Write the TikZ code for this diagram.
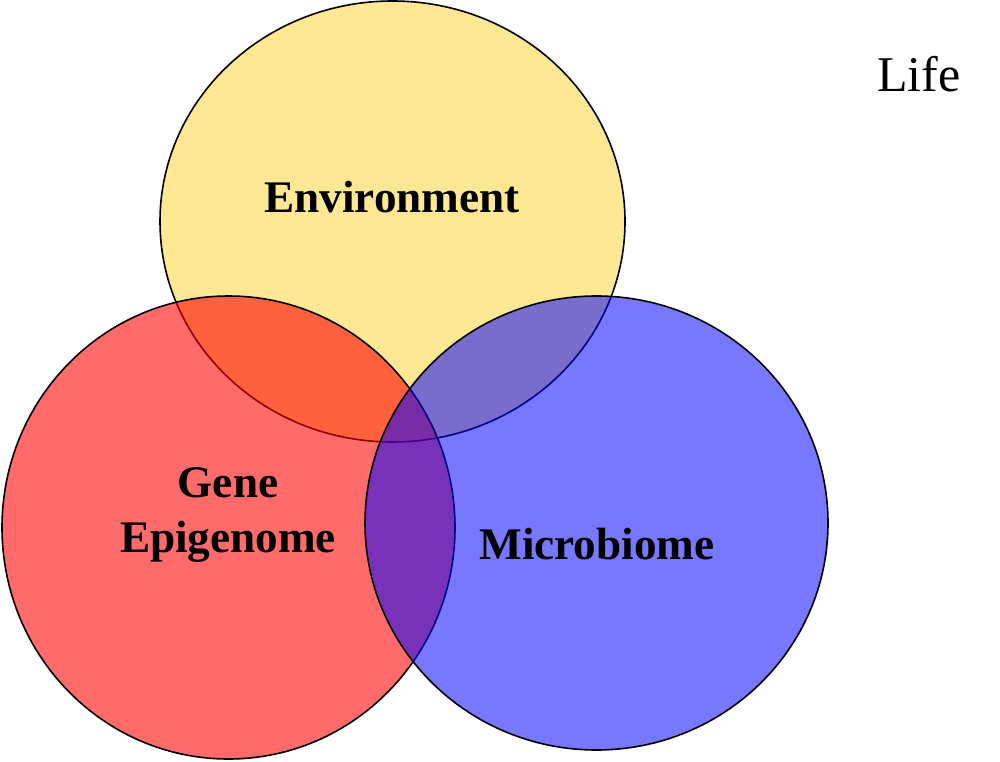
\documentclass[tikz,border=0pt]{standalone}
\usepackage{fontspec}
\setmainfont{Liberation Serif}
\begin{document}
\begin{tikzpicture}[x=1pt,y=-1pt,
  setcircle/.style={draw=black,line width=1.6pt},
  lbl/.style={font=\fontsize{45.2}{54}\selectfont\bfseries,inner sep=0pt,anchor=base,align=center}]
\useasboundingbox (0,0) rectangle (1000,762);
\fill[white] (0,0) rectangle (1000,762);
\path[setcircle,fill={rgb,255:red,255;green,232;blue,148}] (392.5,221.5) ellipse [x radius=232.5,y radius=220.5];
\path[setcircle,fill={rgb,255:red,255;green,0;blue,0},fill opacity=0.58] (228.5,527.5) ellipse [x radius=226.5,y radius=231.5];
\path[setcircle,fill={rgb,255:red,0;green,0;blue,255},fill opacity=0.53] (596.5,523) ellipse [x radius=231.5,y radius=227];
\node[lbl] (env) at (392,212) {Environment};
\node[lbl] (gene) at (228,497) {Gene};
\node[lbl] (epi) at (228,552) {Epigenome};
\node[lbl] (mic) at (597,559) {Microbiome};
\node[font=\fontsize{50}{58}\selectfont,inner sep=0pt,anchor=base] (life) at (919,92) {Life};
\end{tikzpicture}
\end{document}
